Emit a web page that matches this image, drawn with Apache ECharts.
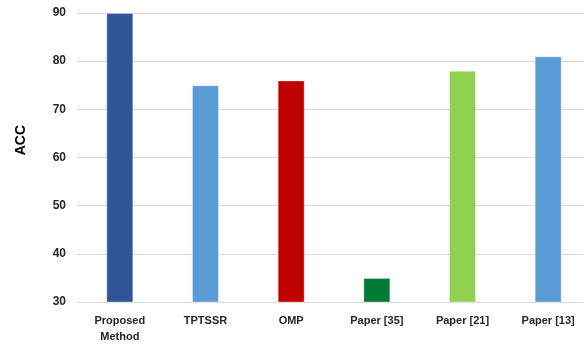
<!DOCTYPE html>
<html>
<head>
<meta charset="utf-8">
<script src="https://cdn.jsdelivr.net/npm/echarts@6/dist/echarts.min.js"></script>
<style>
  html, body { margin: 0; padding: 0; background: #fff; overflow: hidden; }
  #chart { width: 591px; height: 345px; }
</style>
</head>
<body>
<div id="chart"></div>
<script>
// Accuracy comparison across methods
const categories = ['Proposed\nMethod', 'TPTSSR', 'OMP', 'Paper [35]', 'Paper [21]', 'Paper [13]'];
const accValues = [90, 75, 76, 35, 78, 81];
const barColors = ['#2F5597', '#5B9BD5', '#C00000', '#007A37', '#92D050', '#5B9BD5'];
const yTicks = { min: 30, max: 90, interval: 10 };
const yTitle = 'ACC';

const chart = echarts.init(document.getElementById('chart'), null, { renderer: 'canvas' });
const font = 'Liberation Sans, Arial, sans-serif';

chart.setOption({
  animation: false,
  // the plot area runs slightly past the right edge of the window
  grid: { left: 77, right: 0, top: 13, bottom: 40 },
  graphic: [{
    type: 'text',
    left: 14, top: 125,
    rotation: Math.PI / 2,
    style: {
      text: yTitle, fill: '#000',
      font: 'bold 14px Liberation Sans, Arial, sans-serif'
    }
  }],
  xAxis: {
    type: 'category',
    data: categories,
    axisLine: { lineStyle: { color: '#d9d9d9', width: 1 } },
    axisTick: { show: false },
    axisLabel: {
      color: '#262626', fontFamily: font, fontWeight: 'bold', fontSize: 11,
      margin: 11, lineHeight: 16, interval: 0
    }
  },
  yAxis: {
    type: 'value',
    min: yTicks.min, max: yTicks.max, interval: yTicks.interval,
    axisLine: { show: false },
    axisTick: { show: false },
    splitLine: { lineStyle: { color: '#d9d9d9', width: 1 } },
    axisLabel: { color: '#262626', fontFamily: font, fontWeight: 'bold', fontSize: 12, margin: 11 }
  },
  series: [{
    type: 'bar',
    barWidth: 27,
    data: accValues.map((v, i) => ({
      value: v,
      itemStyle: { color: barColors[i], borderColor: 'rgba(255,255,255,0.35)', borderWidth: 1 }
    }))
  }]
});
</script>
</body>
</html>
